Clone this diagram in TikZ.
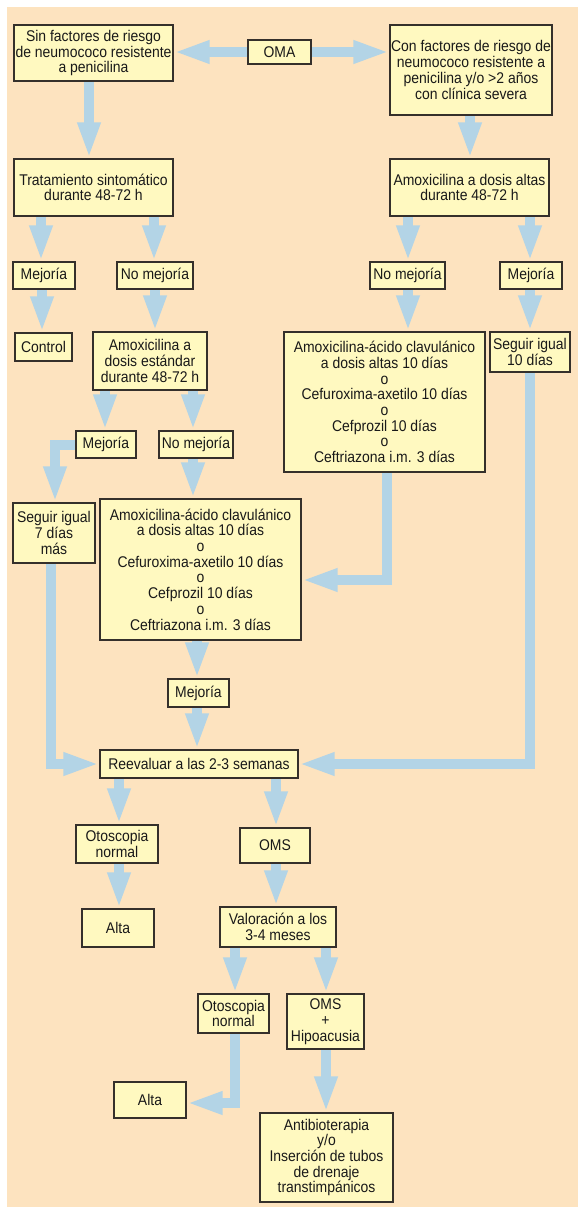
\documentclass[tikz,border=0pt]{standalone}
\usepackage{fontspec}
\setmainfont{Liberation Sans}[FakeStretch=0.9]
\usetikzlibrary{arrows.meta}
\definecolor{peach}{HTML}{FDE3BF}
\definecolor{boxfill}{HTML}{FFF9C0}
\definecolor{arrowblue}{HTML}{B3D4E6}
\definecolor{border}{HTML}{35302B}
\pgfdeclarelayer{bg}
\pgfdeclarelayer{arrows}
\pgfsetlayers{bg,arrows,main}
\newcommand\varr[3]{\draw[arr] (#1.south -| #3,0) -- (#2.north -| #3,0);}
\begin{document}
\begin{tikzpicture}[x=1pt,y=-1pt,
  box/.style={draw=border, line width=1.3pt, fill=boxfill, inner sep=0pt, align=center,
    font=\fontsize{15.5}{15.7}\selectfont, text=black!90},
  arr/.style={draw=arrowblue, line width=10pt, -{Triangle[length=36pt,width=21pt]}, line join=miter}]
\useasboundingbox (0,0) rectangle (578,1207);
\begin{pgfonlayer}{bg}
\fill[white] (0,0) rectangle (578,1207);
\fill[peach] (7,7) rectangle (578,1207);
\end{pgfonlayer}

\node[box, minimum width=159pt, minimum height=56pt] (sin) at (93.5,53) {Sin factores de riesgo\\de neumococo resistente\\a penicilina};
\node[box, minimum width=63pt, minimum height=24pt] (oma) at (279.5,52) {OMA};
\node[box, minimum width=162pt, minimum height=90pt] (con) at (471,70) {Con factores de riesgo de\\neumococo resistente a\\penicilina y/o >2 años\\con clínica severa};
\node[box, minimum width=159pt, minimum height=57pt] (trat) at (93.5,187.5) {Tratamiento sintomático\\durante 48-72 h};
\node[box, minimum width=159pt, minimum height=57pt] (amoxA) at (469.5,187.5) {Amoxicilina a dosis altas\\durante 48-72 h};
\node[box, minimum width=62pt, minimum height=27pt] (mejL) at (44,275.5) {Mejoría};
\node[box, minimum width=76pt, minimum height=27pt] (nomejL) at (155,275.5) {No mejoría};
\node[box, minimum width=75pt, minimum height=27pt] (nomejR) at (407.5,275.5) {No mejoría};
\node[box, minimum width=62pt, minimum height=27pt] (mejR) at (531,275.5) {Mejoría};
\node[box, minimum width=57pt, minimum height=28pt] (control) at (43.5,347) {Control};
\node[box, minimum width=114pt, minimum height=58pt] (amoxE) at (150,361) {Amoxicilina a\\dosis estándar\\durante 48-72 h};
\node[box, minimum width=201pt, minimum height=140pt] (bigR) at (384.5,402) {Amoxicilina-ácido clavulánico\\a dosis altas 10 días\\o\\Cefuroxima-axetilo 10 días\\o\\Cefprozil 10 días\\o\\Ceftriazona i.m. 3 días};
\node[box, minimum width=80pt, minimum height=40pt] (seg10) at (530,352) {Seguir igual\\10 días};
\node[box, minimum width=60pt, minimum height=27pt] (mej2) at (106,444.5) {Mejoría};
\node[box, minimum width=74pt, minimum height=27pt] (nomej2) at (196,444.5) {No mejoría};
\node[box, minimum width=82pt, minimum height=60pt] (seg7) at (54,533) {Seguir igual\\7 días\\más};
\node[box, minimum width=201pt, minimum height=141pt] (bigL) at (200.5,569.5) {Amoxicilina-ácido clavulánico\\a dosis altas 10 días\\o\\Cefuroxima-axetilo 10 días\\o\\Cefprozil 10 días\\o\\Ceftriazona i.m. 3 días};
\node[box, minimum width=61pt, minimum height=28pt] (mej3) at (198.5,693) {Mejoría};
\node[box, minimum width=198pt, minimum height=28pt] (reev) at (199,764) {Reevaluar a las 2-3 semanas};
\node[box, minimum width=82pt, minimum height=38pt] (otos1) at (117,844) {Otoscopia\\normal};
\node[box, minimum width=70pt, minimum height=35pt] (oms1) at (275,845.5) {OMS};
\node[box, minimum width=72pt, minimum height=38pt] (alta1) at (118,928) {Alta};
\node[box, minimum width=116pt, minimum height=40pt] (val) at (278,927) {Valoración a los\\3-4 meses};
\node[box, minimum width=71pt, minimum height=39pt] (otos2) at (233.5,1013.5) {Otoscopia\\normal};
\node[box, minimum width=77pt, minimum height=55pt] (omsh) at (325.5,1021.5) {OMS\\+\\Hipoacusia};
\node[box, minimum width=72pt, minimum height=36pt] (alta2) at (150,1100) {Alta};
\node[box, minimum width=133pt, minimum height=89pt] (anti) at (326.5,1157.5) {Antibioterapia\\y/o\\Inserción de tubos\\de drenaje\\transtimpánicos};

\begin{pgfonlayer}{arrows}
\draw[arr] (oma.west) -- (oma.west -| sin.east);
\draw[arr] (oma.east) -- (oma.east -| con.west);
\varr{sin}{trat}{89}
\varr{con}{amoxA}{470}
\varr{trat}{mejL}{41}
\varr{trat}{nomejL}{154}
\varr{amoxA}{nomejR}{408}
\varr{amoxA}{mejR}{530}
\varr{mejL}{control}{42}
\varr{nomejL}{amoxE}{155}
\varr{nomejR}{bigR}{408}
\varr{mejR}{seg10}{530}
\varr{amoxE}{mej2}{105}
\varr{amoxE}{nomej2}{193}
\varr{nomej2}{bigL}{193}
\varr{bigL}{mej3}{197}
\varr{mej3}{reev}{197}
\varr{reev}{otos1}{119}
\varr{reev}{oms1}{276}
\varr{otos1}{alta1}{119}
\varr{oms1}{val}{276}
\varr{val}{otos2}{235}
\varr{val}{omsh}{326}
\varr{omsh}{anti}{326}
\draw[arr] (mej2.west) -| (seg7.north -| 55,0);
\draw[arr] (seg7.south -| 51,0) |- (reev.west);
\draw[arr] (seg10.south -| 530,0) |- (reev.east);
\draw[arr] (bigR.south -| 387,0) |- (bigL.east |- 0,580);
\draw[arr] (otos2.south -| 235,0) |- (alta2.east |- 0,1103);
\end{pgfonlayer}
\end{tikzpicture}
\end{document}
